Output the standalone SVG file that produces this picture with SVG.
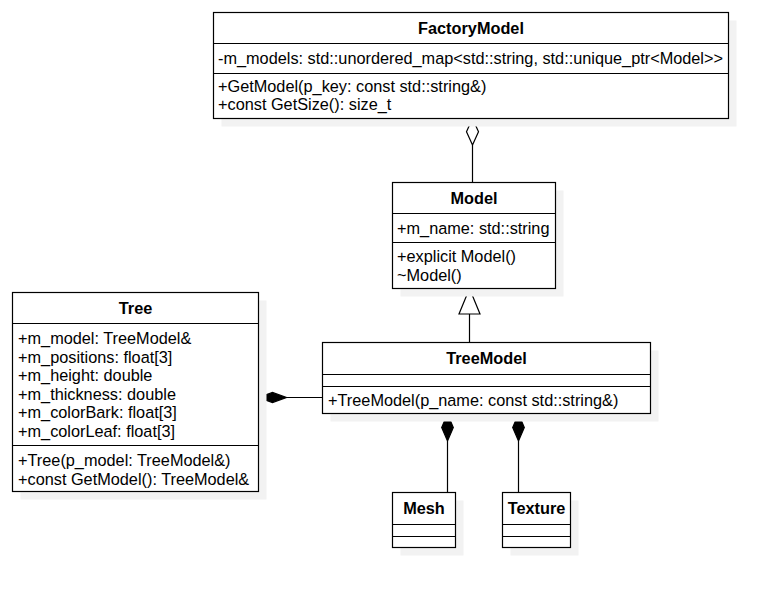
<svg xmlns="http://www.w3.org/2000/svg" width="777" height="597" viewBox="0 0 777 597">
<style>
.sh{fill:#f2f2f2;stroke:none}
.bx{fill:#fff;stroke:#000;stroke-width:1.2}
.ln{stroke:#000;stroke-width:1.2;fill:none}
.t{font-family:"Liberation Sans",Arial,sans-serif;font-size:16.3px;fill:#000}
.b{font-weight:bold;text-anchor:middle}
</style>
<rect width="777" height="597" fill="#fff"/>
<g id="connectors">
<line class="ln" x1="472.5" y1="145" x2="472.5" y2="182.5"/>
<polygon points="472.5,118.5 478.5,131.8 472.5,145 466.5,131.8" fill="#fff" stroke="#000" stroke-width="1.2"/>
<line class="ln" x1="469.5" y1="314" x2="469.5" y2="342.5"/>
<polygon points="469.5,288.5 480,314 459,314" fill="#fff" stroke="#000" stroke-width="1.2"/>
<line class="ln" x1="286.5" y1="397.5" x2="322.5" y2="397.5"/>
<polygon points="258.5,397.5 272.5,392.5 286.5,397.5 272.5,402.5" fill="#000" stroke="#000" stroke-width="1.2"/>
<line class="ln" x1="447.5" y1="441" x2="447.5" y2="492.5"/>
<polygon points="447.5,414 453.3,427.5 447.5,441 441.7,427.5" fill="#000" stroke="#000" stroke-width="1.2"/>
<line class="ln" x1="518.5" y1="441" x2="518.5" y2="492.5"/>
<polygon points="518.5,414 524.3,427.5 518.5,441 512.7,427.5" fill="#000" stroke="#000" stroke-width="1.2"/>
</g>
<g id="FactoryModel">
<rect class="sh" x="221.5" y="20.5" width="515" height="106"/>
<rect class="bx" x="213.5" y="12.5" width="515" height="106"/>
<line class="ln" x1="213.5" y1="43.5" x2="728.5" y2="43.5"/>
<line class="ln" x1="213.5" y1="73.5" x2="728.5" y2="73.5"/>
<text class="t b" x="471" y="34">FactoryModel</text>
<text class="t" x="218" y="64">-m_models: std::unordered_map&lt;std::string, std::unique_ptr&lt;Model&gt;&gt;</text>
<text class="t" x="218" y="92">+GetModel(p_key: const std::string&amp;)</text>
<text class="t" x="218" y="110">+const GetSize(): size_t</text>
</g>
<g id="Model">
<rect class="sh" x="400.5" y="190.5" width="163" height="106"/>
<rect class="bx" x="392.5" y="182.5" width="163" height="106"/>
<line class="ln" x1="392.5" y1="213.5" x2="555.5" y2="213.5"/>
<line class="ln" x1="392.5" y1="242.5" x2="555.5" y2="242.5"/>
<text class="t b" x="474" y="204">Model</text>
<text class="t" x="397" y="234">+m_name: std::string</text>
<text class="t" x="397" y="262">+explicit Model()</text>
<text class="t" x="397" y="281">~Model()</text>
</g>
<g id="Tree">
<rect class="sh" x="20.5" y="300.5" width="246" height="199"/>
<rect class="bx" x="12.5" y="292.5" width="246" height="199"/>
<line class="ln" x1="12.5" y1="323.5" x2="258.5" y2="323.5"/>
<line class="ln" x1="12.5" y1="445.5" x2="258.5" y2="445.5"/>
<text class="t b" x="135.5" y="314">Tree</text>
<text class="t" x="18" y="344">+m_model: TreeModel&amp;</text>
<text class="t" x="18" y="362.5">+m_positions: float[3]</text>
<text class="t" x="18" y="381">+m_height: double</text>
<text class="t" x="18" y="399.5">+m_thickness: double</text>
<text class="t" x="18" y="418">+m_colorBark: float[3]</text>
<text class="t" x="18" y="436.5">+m_colorLeaf: float[3]</text>
<text class="t" x="18" y="466">+Tree(p_model: TreeModel&amp;)</text>
<text class="t" x="18" y="485">+const GetModel(): TreeModel&amp;</text>
</g>
<g id="TreeModel">
<rect class="sh" x="330.5" y="350.5" width="328" height="71"/>
<rect class="bx" x="322.5" y="342.5" width="328" height="71"/>
<line class="ln" x1="322.5" y1="374.5" x2="650.5" y2="374.5"/>
<line class="ln" x1="322.5" y1="386.5" x2="650.5" y2="386.5"/>
<text class="t b" x="486.5" y="364">TreeModel</text>
<text class="t" x="328" y="406">+TreeModel(p_name: const std::string&amp;)</text>
</g>
<g id="Mesh">
<rect class="sh" x="400.5" y="500.5" width="63" height="55"/>
<rect class="bx" x="392.5" y="492.5" width="63" height="55"/>
<line class="ln" x1="392.5" y1="524.5" x2="455.5" y2="524.5"/>
<line class="ln" x1="392.5" y1="536.5" x2="455.5" y2="536.5"/>
<text class="t b" x="424" y="514">Mesh</text>
</g>
<g id="Texture">
<rect class="sh" x="510.5" y="500.5" width="68" height="55"/>
<rect class="bx" x="502.5" y="492.5" width="68" height="55"/>
<line class="ln" x1="502.5" y1="524.5" x2="570.5" y2="524.5"/>
<line class="ln" x1="502.5" y1="536.5" x2="570.5" y2="536.5"/>
<text class="t b" x="536.5" y="514">Texture</text>
</g>
</svg>
